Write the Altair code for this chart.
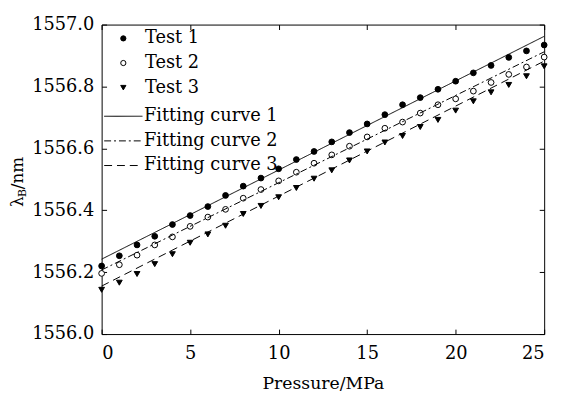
import altair as alt
import pandas as pd

# ---------------- data ----------------
pressure = list(range(26))
test1 = [1556.220, 1556.253, 1556.288, 1556.316, 1556.354, 1556.383, 1556.412,
         1556.448, 1556.478, 1556.504, 1556.534, 1556.564, 1556.590, 1556.621,
         1556.651, 1556.679, 1556.709, 1556.741, 1556.764, 1556.791, 1556.817,
         1556.844, 1556.868, 1556.894, 1556.915, 1556.934]
test2 = [1556.196, 1556.224, 1556.255, 1556.288, 1556.314, 1556.348, 1556.378,
         1556.403, 1556.439, 1556.467, 1556.495, 1556.523, 1556.552, 1556.579,
         1556.607, 1556.637, 1556.665, 1556.685, 1556.714, 1556.741, 1556.760,
         1556.785, 1556.813, 1556.839, 1556.863, 1556.895]
test3 = [1556.143, 1556.166, 1556.194, 1556.226, 1556.258, 1556.295, 1556.322,
         1556.350, 1556.388, 1556.414, 1556.442, 1556.472, 1556.502, 1556.529,
         1556.561, 1556.590, 1556.619, 1556.640, 1556.669, 1556.692, 1556.722,
         1556.752, 1556.781, 1556.805, 1556.833, 1556.865]
test_names = ["Test 1", "Test 2", "Test 3"]

fit_x = [0, 25]
fit1 = [1556.242, 1556.962]
fit2 = [1556.207, 1556.912]
fit3 = [1556.155, 1556.882]
fit_names = ["Fitting curve 1", "Fitting curve 2", "Fitting curve 3"]

x_ticks = [0, 5, 10, 15, 20, 25]
y_ticks = [1556.0, 1556.2, 1556.4, 1556.6, 1556.8, 1557.0]

# ---------------- tables ----------------
pts = pd.DataFrame({
    "p": pressure * 3,
    "wl": test1 + test2 + test3,
    "test": [n for n in test_names for _ in pressure],
})
fits = pd.DataFrame({
    "p": fit_x * 3,
    "wl": fit1 + fit2 + fit3,
    "curve": [n for n in fit_names for _ in fit_x],
})
dummy = pd.DataFrame({"a": [0]})

W, H = 449, 314
FONT = "DejaVu Serif"

xs = alt.Scale(domain=[0, 25], nice=False)
ys = alt.Scale(domain=[1556.0, 1557.0], nice=False)

tests_legend = alt.Legend(
    title=None, orient="none", legendX=13, legendY=1.5, padding=0,
    labelFont=FONT, labelFontSize=18, labelColor="black",
    rowPadding=0, clipHeight=25, labelOffset=13, symbolStrokeColor="black",
    symbolStrokeWidth=1, symbolSize=28,
)
fits_legend = alt.Legend(
    title=None, orient="none", legendX=2, legendY=80.5, padding=0,
    labelFont=FONT, labelFontSize=18, labelColor="black",
    rowPadding=0, clipHeight=25, labelOffset=1, symbolType="stroke", symbolSize=1507,
    symbolStrokeColor="black", symbolStrokeWidth=1,
)

inward = {"expr": "-5"}

points = alt.Chart(pts).mark_point(
    filled=True, strokeWidth=1, opacity=1, size=34
).encode(
    x=alt.X("p:Q", scale=xs, title="Pressure/MPa",
            axis=alt.Axis(values=x_ticks, format="d", ticks=False, domain=False,
                          grid=False, labelPadding=11, titlePadding=12)),
    y=alt.Y("wl:Q", scale=ys, title=None,
            axis=alt.Axis(values=y_ticks, format=".1f", ticks=False, domain=False,
                          grid=False, labelPadding=8)),
    shape=alt.Shape("test:N", scale=alt.Scale(domain=test_names,
                    range=["circle", "circle", "triangle-down"]), legend=tests_legend),
    fill=alt.Fill("test:N", scale=alt.Scale(domain=test_names,
                  range=["black", "white", "black"]), legend=tests_legend),
    stroke=alt.Stroke("test:N", scale=alt.Scale(domain=test_names,
                      range=["black", "black", "black"]), legend=tests_legend),
)

lines = alt.Chart(fits).mark_line(color="black", strokeWidth=1).encode(
    x=alt.X("p:Q", scale=xs, title=None,
            axis=alt.Axis(orient="top", values=x_ticks, labels=False,
                          domain=False, ticks=True, tickSize=inward, tickColor="black",
                          tickWidth=1, grid=False)),
    y=alt.Y("wl:Q", scale=ys, title=None,
            axis=alt.Axis(orient="right", values=y_ticks, labels=False,
                          domain=False, ticks=True, tickSize=inward, tickColor="black",
                          tickWidth=1, grid=False)),
    strokeDash=alt.StrokeDash("curve:N", scale=alt.Scale(domain=fit_names,
                              range=[[1, 0], [7, 3, 2, 3], [8, 5]]), legend=fits_legend),
)

ticks2 = alt.Chart(pts).mark_point(opacity=0).encode(
    x=alt.X("p:Q", scale=xs, title=None,
            axis=alt.Axis(orient="bottom", values=x_ticks, labels=False,
                          domain=False, ticks=True, tickSize=inward, tickColor="black",
                          tickWidth=1, grid=False)),
    y=alt.Y("wl:Q", scale=ys, title=None,
            axis=alt.Axis(orient="left", values=y_ticks, labels=False,
                          domain=False, ticks=True, tickSize=inward, tickColor="black",
                          tickWidth=1, grid=False)),
)

lam = alt.Chart(dummy).mark_text(
    text="λ", angle=270, align="left", baseline="alphabetic",
    font=FONT, fontSize=17, color="black"
).encode(x=alt.value(-80), y=alt.value(185))
sub = alt.Chart(dummy).mark_text(
    text="B", angle=270, align="left", baseline="alphabetic",
    font=FONT, fontSize=11, color="black"
).encode(x=alt.value(-77), y=alt.value(175))
unit = alt.Chart(dummy).mark_text(
    text="/nm", angle=270, align="left", baseline="alphabetic",
    font=FONT, fontSize=17, color="black"
).encode(x=alt.value(-80), y=alt.value(167))

chart = alt.layer(points, lines, ticks2, lam, sub, unit).resolve_axis(
    x="independent", y="independent"
).properties(
    width=W, height=H,
    padding={"left": 95, "top": 14, "right": 12, "bottom": 59},
    autosize=alt.AutoSizeParams(type="none"),
).configure_view(
    stroke="black", strokeWidth=1
).configure_axis(
    labelFont=FONT, labelFontSize=18, labelColor="black",
    titleFont=FONT, titleFontSize=17.5, titleColor="black", titleFontWeight="normal",
)

chart.save("out.html", embed_options={"renderer": "svg", "actions": False})
